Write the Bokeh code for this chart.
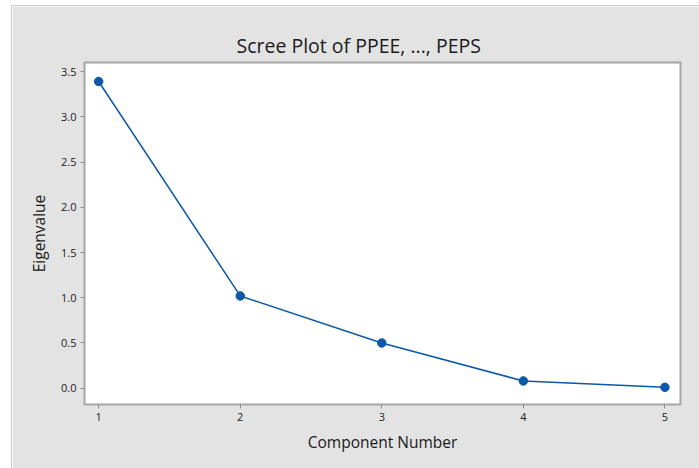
from bokeh.plotting import figure
from bokeh.models import ColumnDataSource, FixedTicker, Range1d, Spacer, PrintfTickFormatter
from bokeh.layouts import row, column
from bokeh.embed import file_html
from bokeh.resources import INLINE

# ---- data ----
components = [1, 2, 3, 4, 5]
eigenvalues = [3.39, 1.02, 0.50, 0.08, 0.01]
x_ticks = [1, 2, 3, 4, 5]
y_ticks = [0.0, 0.5, 1.0, 1.5, 2.0, 2.5, 3.0, 3.5]
title_text = "Scree Plot of PPEE, ..., PEPS"
x_label = "Component Number"
y_label = "Eigenvalue"

FONT = "Open Sans"
BLUE = "#0b58a8"
BG = "#e3e3e3"
EDGE = "#cdcdcd"

src = ColumnDataSource(data=dict(x=components, y=eigenvalues))

p = figure(width=687, height=462, output_backend="svg", toolbar_location=None,
           x_range=Range1d(0.9, 5.11), y_range=Range1d(-0.18, 3.60),
           min_border_left=72, min_border_right=19, min_border_top=56, min_border_bottom=64,
           background_fill_color="white", border_fill_color=BG)

p.title.text = title_text
p.title.align = "left"
p.title.offset = 152
p.title.text_font = FONT
p.title.text_font_size = "19.5px"
p.title.text_font_style = "normal"
p.title.text_color = "#1a1a1a"
p.title.standoff = 8

p.outline_line_color = "#a6a6a6"
p.outline_line_width = 2
p.xgrid.visible = False
p.ygrid.visible = False

for ax in (p.xaxis[0], p.yaxis[0]):
    ax.axis_line_color = None
    ax.major_tick_line_color = "#8c8c8c"
    ax.major_tick_out = 4
    ax.major_tick_in = 0
    ax.minor_tick_line_color = None
    ax.major_label_text_font = FONT
    ax.major_label_text_font_size = "11px"
    ax.major_label_text_color = "#222222"
    ax.axis_label_text_font = FONT
    ax.axis_label_text_font_style = "normal"
    ax.axis_label_text_color = "#1a1a1a"
    ax.axis_label_text_font_size = "15.5px"

p.xaxis[0].ticker = FixedTicker(ticks=x_ticks)
p.yaxis[0].ticker = FixedTicker(ticks=y_ticks)
p.yaxis[0].formatter = PrintfTickFormatter(format="%.1f")
p.xaxis[0].axis_label = x_label
p.yaxis[0].axis_label = y_label
p.xaxis[0].axis_label_standoff = 7
p.yaxis[0].axis_label_standoff = 8
p.xaxis[0].major_label_standoff = 4
p.yaxis[0].major_label_standoff = 4

p.line("x", "y", source=src, line_color=BLUE, line_width=1.5)
p.scatter("x", "y", source=src, size=8.5, fill_color=BLUE, line_color=BLUE, marker="circle")

top_edge = row(Spacer(width=11, height=1),
               Spacer(width=688, height=1, styles={"background-color": EDGE}))
body = row(Spacer(width=11, height=462),
           Spacer(width=1, height=462, styles={"background-color": EDGE}),
           p)
layout = column(Spacer(width=699, height=5), top_edge, body)
open("out.html", "w").write(file_html(layout, INLINE))
